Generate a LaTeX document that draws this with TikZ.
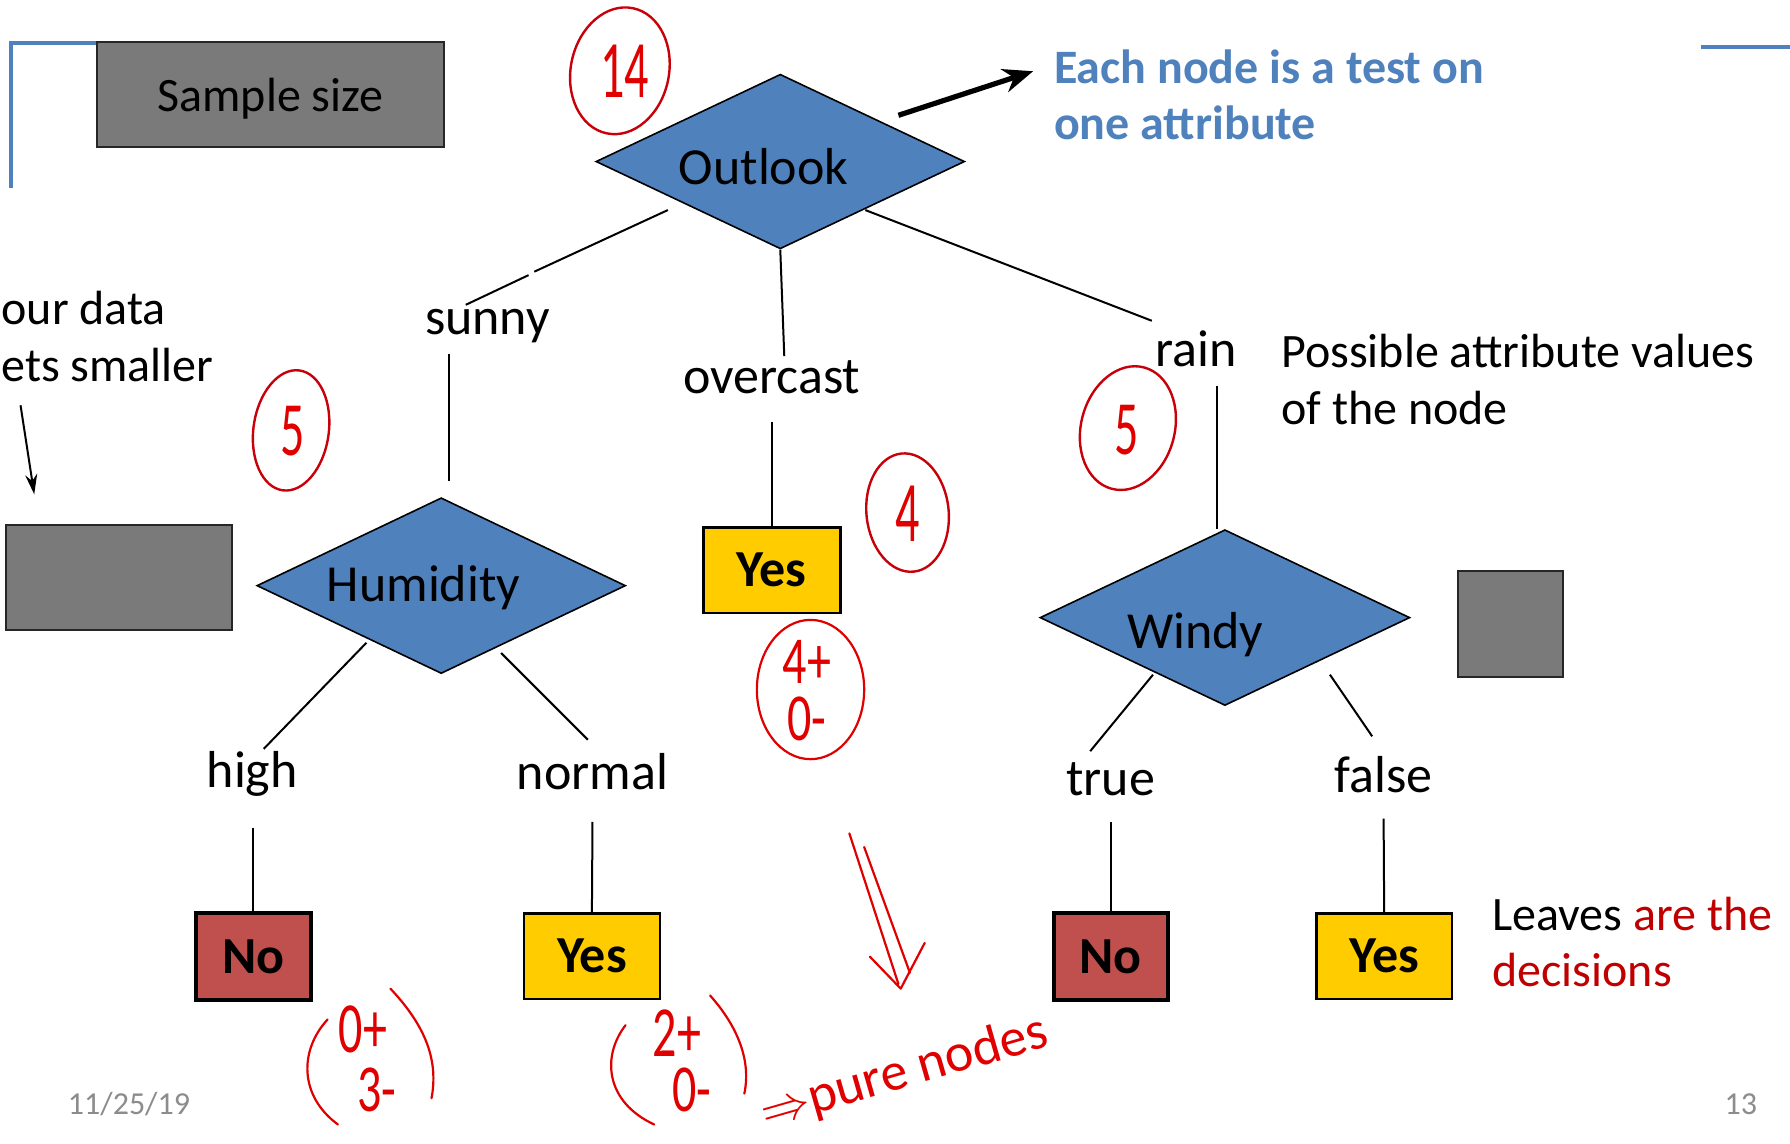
\documentclass[tikz,border=0pt]{standalone}
\usepackage{fontspec}
\setmainfont{Carlito}
\usetikzlibrary{shapes.geometric,arrows.meta}
\definecolor{dblue}{HTML}{4F81BD}
\definecolor{ngray}{HTML}{7A7A7A}
\definecolor{nored}{HTML}{C0504D}
\definecolor{yesgold}{HTML}{FFCC00}
\definecolor{txtred}{HTML}{C00000}
\definecolor{penred}{HTML}{E00000}
\definecolor{circred}{HTML}{C8000A}
\definecolor{footgray}{HTML}{8C8C8C}
\newlength\pxu
\setlength\pxu{0.5708pt}
\begin{document}
\begin{tikzpicture}[x=0.5708pt, y=-0.5708pt,
  lbl/.style={font=\fontsize{26}{31}\selectfont, inner sep=0pt, anchor=base},
  side/.style={font=\fontsize{24}{28.5}\selectfont, inner sep=0pt, anchor=base west},
  decision/.style={diamond, draw=black, line width=0.8pt, fill=dblue, inner sep=0pt},
  leafbox/.style={rectangle, draw=black, inner sep=0pt, font=\bfseries\fontsize{26}{31}\selectfont},
  nobox/.style={leafbox, fill=nored, line width=2pt},
  yesbox/.style={leafbox, fill=yesgold, line width=1.3pt},
  graybox/.style={rectangle, draw=black!85, fill=ngray, line width=0.9pt, inner sep=0pt},
  conn/.style={draw=black, line width=1pt},
  pen/.style={draw=penred, line width=1.1pt, line cap=round, line join=round},
  circ/.style={draw=circred, line width=1.2pt},
  hand/.style={text=penred, inner sep=0pt, font=\fontsize{24}{28}\selectfont},
  foot/.style={text=footgray, inner sep=0pt, anchor=base, font=\fontsize{16}{19}\selectfont}
]
\useasboundingbox (0,0) rectangle (1568,1002);
\clip (0,0) rectangle (1568,1002);
\fill[white] (0,0) rectangle (1568,1002);

% blue slide decorations
\draw[dblue, line width=2pt] (10,165) -- (10,38) -- (86,38);
\draw[dblue, line width=2pt] (1490,41) -- (1568,41);

% gray boxes
\node[graybox, minimum width=304\pxu, minimum height=92\pxu, text depth=0pt,
      font=\fontsize{24}{28.5}\selectfont] (sample) at (237,83) {Sample size};
\node[graybox, minimum width=198\pxu, minimum height=92\pxu] (grayL) at (104,506) {};
\node[graybox, minimum width=92\pxu, minimum height=93\pxu] (grayR) at (1323,546.5) {};

% decision diamonds
\node[decision, minimum width=323\pxu, minimum height=153\pxu] (outlook) at (683.5,141.5) {};
\node[lbl] (outlookT) at (669,162) {Outlook};
\node[decision, minimum width=323\pxu, minimum height=154\pxu] (humid) at (386.5,513) {};
\node[lbl] (humidT) at (371,527) {Humidity};
\node[decision, minimum width=324\pxu, minimum height=154\pxu] (windy) at (1073,541) {};
\node[lbl] (windyT) at (1047,568) {Windy};

% branch labels
\node[lbl] (sunny) at (427,293) {sunny};
\node[lbl] (overcast) at (676,345) {overcast};
\node[lbl] (rain) at (1048,321) {rain};
\node[lbl] (high) at (221,690) {high};
\node[lbl] (normal) at (519,692) {normal};
\node[lbl] (true) at (973,697) {true};
\node[lbl] (false) at (1212,694) {false};

% leaves
\node[yesbox, minimum width=120\pxu, minimum height=75\pxu] (yesO) at (676,499.5) {Yes};
\node[nobox, minimum width=100\pxu, minimum height=76\pxu] (noL) at (222,838) {No};
\node[yesbox, minimum width=119\pxu, minimum height=75\pxu] (yesL) at (518.5,837.5) {Yes};
\node[nobox, minimum width=100\pxu, minimum height=76\pxu] (noR) at (973,838) {No};
\node[yesbox, minimum width=119\pxu, minimum height=75\pxu] (yesR) at (1212.5,837.5) {Yes};

% connector end points
\coordinate (a1) at (585,184); \coordinate (a2) at (468,238);
\coordinate (a3) at (463,241); \coordinate (a4) at (408,267);
\coordinate (b1) at (393,310); \coordinate (b2) at (393,421);
\coordinate (c2) at (687,312);
\coordinate (d1) at (676,370);
\coordinate (e1) at (758,184); \coordinate (e2) at (1009,281);
\coordinate (f1) at (1066,338); \coordinate (f2) at (1066,463);
\coordinate (g1) at (321,563); \coordinate (g2) at (231,656);
\coordinate (h1) at (439,572); \coordinate (h2) at (515,648);
\coordinate (i1) at (222,725);
\coordinate (j1) at (519,720);
\coordinate (k1) at (1010,591); \coordinate (k2) at (955,658);
\coordinate (l1) at (1165,591); \coordinate (l2) at (1202,645);
\coordinate (m1) at (973,720);
\coordinate (n1) at (1212,717);

\draw[conn] (a1) -- (a2);
\draw[conn] (a3) -- (a4);
\draw[conn] (b1) -- (b2);
\draw[conn] (outlook.south) -- (c2);
\draw[conn] (d1) -- (yesO.north);
\draw[conn] (e1) -- (e2);
\draw[conn] (f1) -- (f2);
\draw[conn] (g1) -- (g2);
\draw[conn] (h1) -- (h2);
\draw[conn] (i1) -- (noL.north);
\draw[conn] (j1) -- (yesL.north);
\draw[conn] (k1) -- (k2);
\draw[conn] (l1) -- (l2);
\draw[conn] (m1) -- (noR.north);
\draw[conn] (n1) -- (yesR.north);

% side texts
\node[side, font=\bfseries\fontsize{24}{28.5}\selectfont, text=dblue] (each1) at (923,73) {Each node is a test on};
\node[side, font=\bfseries\fontsize{24}{28.5}\selectfont, text=dblue] (each2) at (923,122) {one attribute};
\coordinate (arr1) at (787,101);
\draw[line width=2.6pt, -{Stealth[length=15pt,width=12pt]}] (arr1) -- ([xshift=-18\pxu,yshift=-4\pxu]each1.west);

\node[side] (poss1) at (1122,322) {Possible attribute values};
\node[side] (poss2) at (1122,372) {of the node};

\node[side] (data1) at (1,284) {our data};
\node[side] (data2) at (1,334) {ets smaller};
\coordinate (sa1) at (18,355);
\coordinate (sa2) at (30,433);
\draw[line width=1pt, -{Stealth[length=10pt,width=6pt]}] (sa1) -- (sa2);

\node[side] (leaves1) at (1307,815) {Leaves \textcolor{txtred}{are the}};
\node[side, text=txtred] (leaves2) at (1307,864) {decisions};

\node[foot] (date) at (113,976) {11/25/19};
\node[foot] (page) at (1525,976) {13};

% handwritten annotations
\draw[circ, rotate around={-12:(543,62)}] (543,62) ellipse [x radius=43, y radius=56];
\node[hand] (n14) at (547,62) {\scalebox{1}[1.7]{14}};
\draw[circ, rotate around={-8:(255,377)}] (255,377) ellipse [x radius=33, y radius=53];
\node[hand] (n5a) at (256,378) {\scalebox{1}[1.6]{5}};
\draw[circ, rotate around={-15:(988,375)}] (988,375) ellipse [x radius=41, y radius=55];
\node[hand] (n5b) at (987,377) {\scalebox{1}[1.6]{5}};
\draw[circ, rotate around={6:(795,449)}] (795,449) ellipse [x radius=36, y radius=52];
\node[hand] (n4) at (795,450) {\scalebox{1}[1.8]{4}};
\draw[pen] (710,604) ellipse [x radius=47, y radius=61];
\node[hand] (p4) at (707,580) {\scalebox{1}[1.4]{4+}};
\node[hand] (m0) at (707,630) {\scalebox{1}[1.4]{0-}};

\node[hand] (c0) at (318,902) {\scalebox{1}[1.5]{0+}};
\node[hand] (c3) at (330,955) {\scalebox{1}[1.4]{3-}};
\draw[pen] (287,893) .. controls (262,920) and (262,960) .. (296,985);
\draw[pen] (342,866) .. controls (374,900) and (384,930) .. (378,962);
\node[hand] (c2p) at (593,905) {\scalebox{1}[1.5]{2+}};
\node[hand] (c0m) at (606,955) {\scalebox{1}[1.4]{0-}};
\draw[pen] (548,898) .. controls (527,925) and (530,965) .. (573,985);
\draw[pen] (622,872) .. controls (647,900) and (658,930) .. (652,958);

\node[hand, rotate=16, font=\fontsize{27}{31}\selectfont] (pure) at (792,940)
  {$\Rightarrow$pure nodes};

\coordinate (dd1) at (744,730); \coordinate (dd2) at (787,862);
\coordinate (dd3) at (757,742); \coordinate (dd4) at (797,852);
\draw[pen] (dd1) -- (dd2);
\draw[pen] (dd3) -- (dd4);
\draw[pen] (762,838) -- (789,866) -- (810,826);
\end{tikzpicture}
\end{document}
